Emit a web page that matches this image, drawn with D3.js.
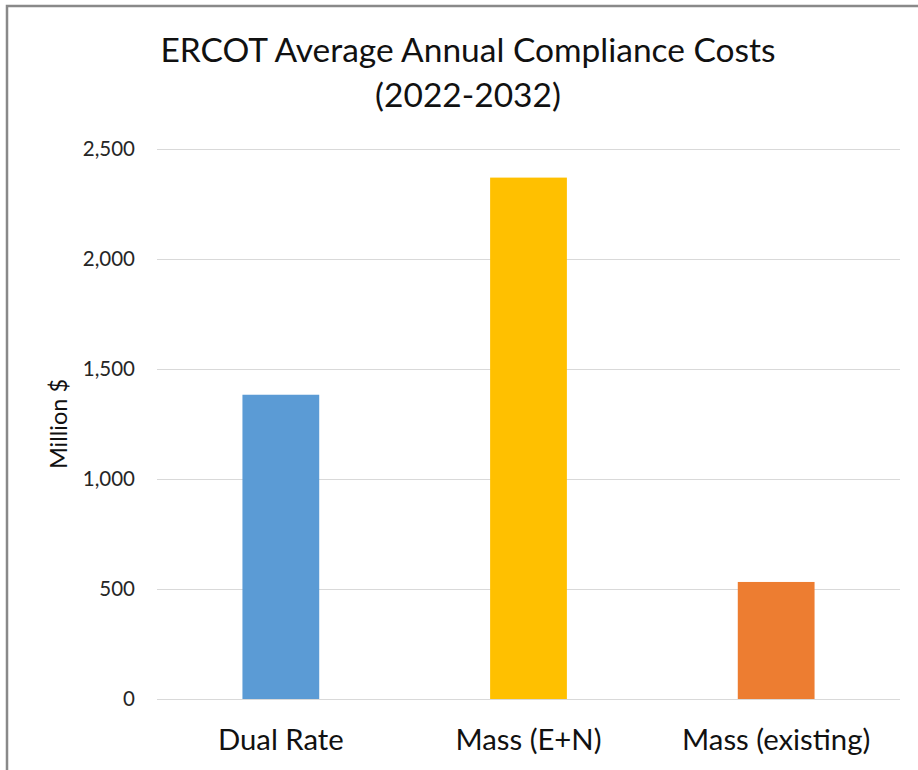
<!DOCTYPE html>
<html>
<head>
<meta charset="utf-8">
<script src="https://cdn.jsdelivr.net/npm/d3@7/dist/d3.min.js"></script>
<style>
  html, body { margin: 0; padding: 0; background: #fff; }
  svg { display: block; }
  text { font-family: Lato, "Open Sans", sans-serif; }
</style>
</head>
<body>
<svg id="chart" width="918" height="770"></svg>
<script>
const categories = ["Dual Rate", "Mass (E+N)", "Mass (existing)"];
const values = [1383, 2370, 532];
const colors = ["#5b9bd5", "#ffc000", "#ed7d31"];
const yTicks = [0, 500, 1000, 1500, 2000, 2500];
const titleLines = ["ERCOT Average Annual Compliance Costs", "(2022-2032)"];
const yAxisTitle = "Million $";

const svg = d3.select("#chart");

// chart frame (extends past the right and bottom edges)
svg.append("rect")
  .attr("x", 7).attr("y", 6)
  .attr("width", 1000).attr("height", 1000)
  .attr("fill", "#fff")
  .attr("stroke", "#898989")
  .attr("stroke-width", 2.5);

const plotLeft = 157, plotRight = 900, plotTop = 149, plotBottom = 699;

const x = d3.scaleBand()
  .domain(categories)
  .range([plotLeft, plotRight])
  .paddingInner(0.69)
  .paddingOuter(0.345);

const y = d3.scaleLinear()
  .domain([0, 2500])
  .range([plotBottom, plotTop]);

// gridlines
const yAxis = d3.axisLeft(y)
  .tickValues(yTicks)
  .tickSize(-(plotRight - plotLeft))
  .tickPadding(22)
  .tickFormat(d3.format(","));

const gy = svg.append("g")
  .attr("transform", `translate(${plotLeft},0)`)
  .call(yAxis);
gy.select(".domain").remove();
gy.selectAll(".tick line")
  .attr("stroke", "#d9d9d9")
  .attr("stroke-width", 1.2);
gy.selectAll(".tick text")
  .attr("fill", "#262626")
  .style("font-size", "20.5px")
  .style("font-family", "Lato, sans-serif");

// bars
svg.append("g")
  .selectAll("rect")
  .data(categories)
  .join("rect")
  .attr("x", d => x(d))
  .attr("width", x.bandwidth())
  .attr("y", (d, i) => y(values[i]))
  .attr("height", (d, i) => y(0) - y(values[i]))
  .attr("fill", (d, i) => colors[i]);

// x axis labels
const xAxis = d3.axisBottom(x).tickSize(0).tickPadding(0);
const gx = svg.append("g")
  .attr("transform", `translate(0,${plotBottom})`)
  .call(xAxis);
gx.select(".domain").remove();
gx.selectAll(".tick text")
  .attr("dy", null)
  .attr("y", 51)
  .attr("fill", "#111")
  .style("font-size", "29.3px")
  .style("font-family", "Lato, sans-serif");

// y axis title
svg.append("text")
  .attr("transform", `translate(67,${(plotTop + plotBottom) / 2}) rotate(-90)`)
  .attr("text-anchor", "middle")
  .attr("fill", "#111")
  .style("font-size", "23.5px")
  .text(yAxisTitle);

// title
svg.append("g")
  .selectAll("text")
  .data(titleLines)
  .join("text")
  .attr("x", 468)
  .attr("y", (d, i) => 62 + i * 45)
  .attr("text-anchor", "middle")
  .attr("fill", "#111")
  .style("font-size", "33.5px")
  .text(d => d);
</script>
</body>
</html>
